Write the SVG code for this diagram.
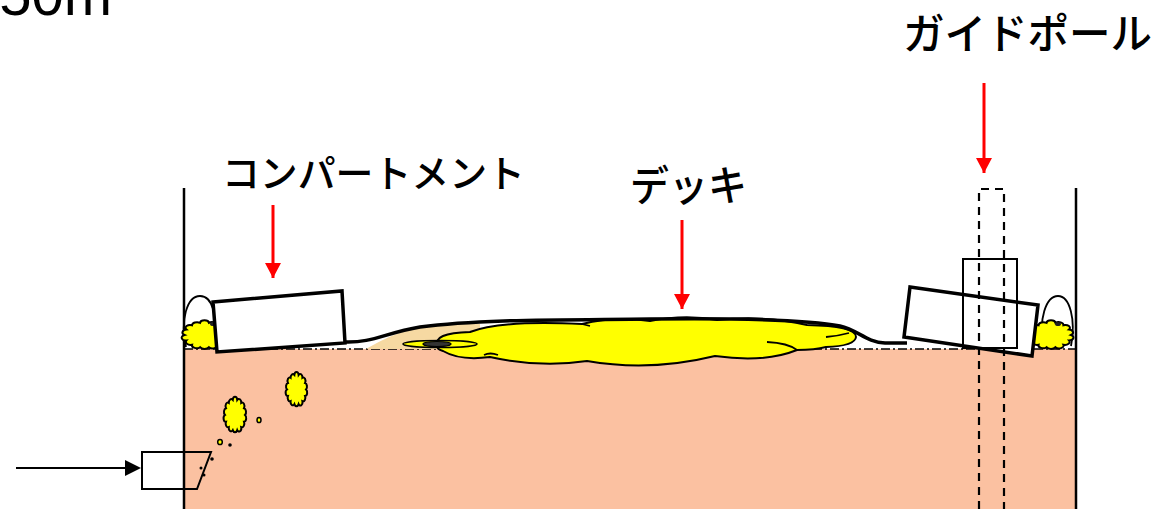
<svg xmlns="http://www.w3.org/2000/svg" xmlns:xlink="http://www.w3.org/1999/xlink" width="1160" height="509" viewBox="0 0 1160 509">
  <style>
    .label { font-family: "Noto Sans CJK JP", "Noto Sans", sans-serif; font-weight: 500; fill: #000; }
    .wall { stroke: #000; stroke-width: 2.5; fill: none; }
    .box { fill: #fff; stroke: #000; stroke-width: 3.5; }
    .thin { fill: none; stroke: #000; stroke-width: 1.8; }
    .foam { fill: #ffff00; stroke: #000; stroke-width: 2; }
    .red { stroke: #ff0000; stroke-width: 3; fill: none; }
    .pole-dash { fill: none; stroke: #000; stroke-width: 2.2; stroke-dasharray: 8 6; }
  </style>
  <defs>
    <!-- unit cloud blob, radius ~10, scaled per use; stroke keeps its width -->
    <path id="blob" vector-effect="non-scaling-stroke" d="M10 0 A2.3 2.3 0 0 1 9.01 4.34 A2.4 2.4 0 0 1 6.23 7.82 A2.25 2.25 0 0 1 2.23 9.75 A2.5 2.5 0 0 1 -2.23 9.75 A2.3 2.3 0 0 1 -6.23 7.82 A2.4 2.4 0 0 1 -9.01 4.34 A2.25 2.25 0 0 1 -10 0 A2.4 2.4 0 0 1 -9.01 -4.34 A2.3 2.3 0 0 1 -6.23 -7.82 A2.5 2.5 0 0 1 -2.23 -9.75 A2.25 2.25 0 0 1 2.23 -9.75 A2.4 2.4 0 0 1 6.23 -7.82 A2.3 2.3 0 0 1 9.01 -4.34 A2.4 2.4 0 0 1 10 0 Z"/>
    <marker id="redHead" markerUnits="userSpaceOnUse" markerWidth="16" markerHeight="16" refX="15" refY="8" orient="auto">
      <path d="M0 0 L15 8 L0 16 Z" fill="#ff0000"/>
    </marker>
  </defs>

  <rect width="1160" height="509" fill="#fff"/>

  <!-- scale text, cut by the top edge -->
  <text x="112" y="15" font-size="58" text-anchor="end" style="font-family:'Liberation Sans', sans-serif">50m</text>

  <!-- tank with water -->
  <g id="tank">
    <rect x="184" y="349" width="892" height="160" fill="#fbc1a1"/>
    <line x1="184" y1="349" x2="1076" y2="349" stroke="#000" stroke-width="1.6" stroke-dasharray="9 3 2 3"/>
    <line class="wall" x1="184" y1="188" x2="184" y2="509"/>
    <line class="wall" x1="1076" y1="188" x2="1076" y2="509" stroke-width="3"/>
  </g>

  <!-- deck with spreading foam -->
  <g id="deck">
    <path d="M366 349 C385 338 405 328 440 324 L480 324 L480 349 Z" fill="#f6d9a2"/>
    <path class="foam" d="M438 346 Q432 333 470 332 Q500 320 582 324 Q615 316 650 321 Q685 314 717 320 Q765 315 807 325 Q856 326 856 337 Q855 346 826 347 Q815 350 797 350 Q765 363 715 356 Q650 372 587 361 Q540 368 490 357 Q460 361 443 351 Q436 349 438 346 Z"/>
    <path class="thin" stroke-width="1.6" d="M767 342 Q788 343 797 350 M826 337 Q838 336 849 333 M484 355 Q490 352 498 355 M582 324 L590 326"/>
    <ellipse cx="440" cy="344" rx="37" ry="3.5" class="foam" style="stroke-width:1.6"/>
    <ellipse cx="437" cy="344" rx="14" ry="2.5" fill="#333" stroke="#000" stroke-width="1.2"/>
    <path d="M345 342 C372 343 385 333 420 327 C480 319 560 320 650 319 C740 318 810 320 840 326 C858 330 866 342 885 343 L907 343" fill="none" stroke="#000" stroke-width="3.5"/>
  </g>

  <!-- left compartment with float -->
  <g id="compartment-left">
    <path class="thin" d="M186 347 C180 320 187 296 200 296 C213 296 218 318 214 340"/>
    <use xlink:href="#blob" class="foam" transform="translate(204.5 335) scale(2.0 1.25)"/>
    <ellipse cx="213" cy="324" rx="3" ry="2" fill="#222"/>
    <polygon class="box" points="213,302 342,291 345,343 217,352"/>
  </g>

  <!-- right compartment with float -->
  <g id="compartment-right">
    <path class="thin" d="M1044 345 C1038 320 1046 296 1058 296 C1070 296 1076 320 1071 346"/>
    <use xlink:href="#blob" class="foam" transform="translate(1051 335) scale(2.0 1.25)"/>
    <ellipse cx="1058" cy="324" rx="3" ry="2" fill="#222"/>
    <polygon class="box" points="910,287 1038,305 1032,356 904,337"/>
  </g>

  <!-- guide pole -->
  <g id="guide-pole">
    <rect x="963" y="259" width="54" height="89" fill="none" stroke="#000" stroke-width="2"/>
    <path class="pole-dash" d="M979 509 L979 189 L1004 189 L1004 509"/>
  </g>

  <!-- sediment blobs and bubbles -->
  <g id="debris">
    <use xlink:href="#blob" class="foam" transform="translate(235 415) scale(1.0 1.55)"/>
    <use xlink:href="#blob" class="foam" transform="translate(296.5 389.5) scale(0.95 1.5)"/>
    <ellipse cx="259" cy="420" rx="2" ry="2.6" fill="#ffff00" stroke="#000" stroke-width="1.5"/>
    <ellipse cx="220" cy="442" rx="2.3" ry="2.6" fill="#ffff00" stroke="#000" stroke-width="1.5"/>
    <circle cx="230" cy="445" r="1.8" fill="#000"/>
    <circle cx="212" cy="459" r="1.8" fill="#000"/>
    <circle cx="201" cy="468" r="1.5" fill="#000"/>
    <circle cx="204" cy="475" r="1.5" fill="#000"/>
  </g>

  <!-- inlet nozzle -->
  <g id="nozzle">
    <polygon points="142,452 211,452 197,489 142,489" fill="none" stroke="#000" stroke-width="2"/>
  </g>

  <!-- labels -->
  <g id="label-compartment">
    <text class="label" x="222" y="187" font-size="38" textLength="303" lengthAdjust="spacingAndGlyphs">コンパートメント</text>
  </g>
  <g id="label-deck">
    <text class="label" x="630" y="201" font-size="42" textLength="117" lengthAdjust="spacingAndGlyphs">デッキ</text>
  </g>
  <g id="label-guide-pole">
    <text class="label" x="903" y="49" font-size="42" textLength="249" lengthAdjust="spacingAndGlyphs">ガイドポール</text>
  </g>

  <!-- connectors -->
  <g id="connectors">
    <line class="red" x1="273" y1="205" x2="273" y2="278" marker-end="url(#redHead)"/>
    <line class="red" x1="682" y1="220" x2="682" y2="309" marker-end="url(#redHead)"/>
    <line class="red" x1="984" y1="83" x2="984" y2="173" marker-end="url(#redHead)"/>
    <line x1="16" y1="468" x2="128" y2="468" stroke="#000" stroke-width="2"/>
    <polygon points="125,460 141,468 125,476" fill="#000"/>
  </g>
</svg>
